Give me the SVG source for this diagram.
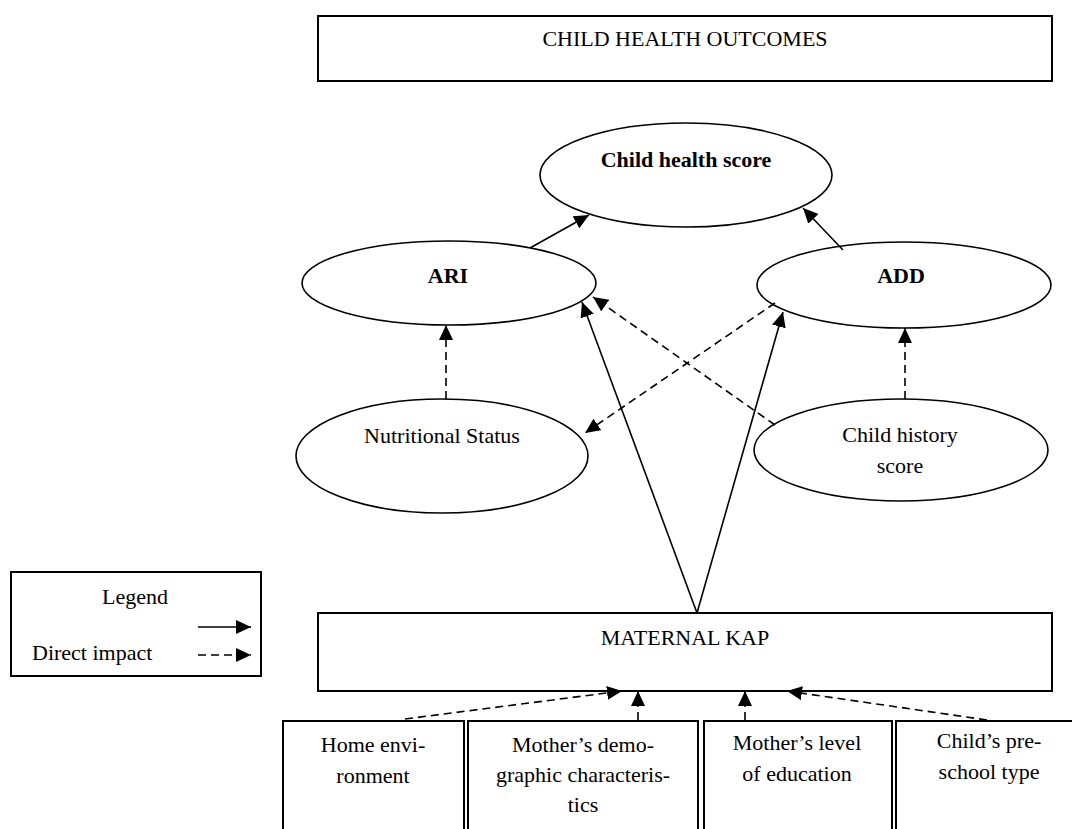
<svg xmlns="http://www.w3.org/2000/svg" width="1072" height="829" viewBox="0 0 1072 829">
<style>
text{font-family:"Liberation Serif","Times New Roman",serif;font-size:22px;fill:#000}
.b{font-weight:bold}
.box{fill:#fff;stroke:#000;stroke-width:2}
.ell{fill:#fff;stroke:#000;stroke-width:1.6}
.s{fill:none;stroke:#000;stroke-width:1.6}
.d{fill:none;stroke:#000;stroke-width:1.6;stroke-dasharray:8 5}
</style>
<defs>
<marker id="ah" markerUnits="userSpaceOnUse" markerWidth="16" markerHeight="14" refX="15" refY="7" orient="auto">
<path d="M0,0 L15,7 L0,14 z" fill="#000"/>
</marker>
</defs>
<rect width="1072" height="829" fill="#fff"/>

<g id="outcomes">
<rect class="box" x="318" y="16" width="734" height="65"/>
<text x="685" y="46" text-anchor="middle">CHILD HEALTH OUTCOMES</text>
</g>

<g id="child-health-score">
<ellipse class="ell" cx="686" cy="175" rx="146" ry="52"/>
<text class="b" x="686" y="167" text-anchor="middle">Child health score</text>
</g>

<g id="ari">
<ellipse class="ell" cx="449" cy="283" rx="147" ry="42"/>
<text class="b" x="448" y="283" text-anchor="middle">ARI</text>
</g>

<g id="add">
<ellipse class="ell" cx="904" cy="285" rx="147" ry="43"/>
<text class="b" x="901" y="283" text-anchor="middle">ADD</text>
</g>

<g id="nutritional-status">
<ellipse class="ell" cx="442" cy="456" rx="146" ry="57"/>
<text x="442" y="443" text-anchor="middle">Nutritional Status</text>
</g>

<g id="child-history-score">
<ellipse class="ell" cx="901" cy="450" rx="147" ry="51"/>
<text x="900" y="442" text-anchor="middle">Child history</text>
<text x="900" y="473" text-anchor="middle">score</text>
</g>

<g id="legend">
<rect class="box" x="11" y="572" width="250" height="104"/>
<text x="135" y="604" text-anchor="middle">Legend</text>
<text x="32" y="660">Direct impact</text>
<line class="s" x1="198" y1="627" x2="251" y2="627" marker-end="url(#ah)"/>
<line class="d" x1="198" y1="655" x2="251" y2="655" marker-end="url(#ah)"/>
</g>

<g id="maternal-kap">
<rect class="box" x="318" y="613" width="734" height="78"/>
<text x="685" y="645" text-anchor="middle">MATERNAL KAP</text>
</g>

<g id="home-environment">
<rect class="box" x="283" y="721" width="181" height="130"/>
<text x="373" y="752" text-anchor="middle">Home envi-</text>
<text x="373" y="783" text-anchor="middle">ronment</text>
</g>

<g id="mothers-demographics">
<rect class="box" x="468" y="721" width="230" height="130"/>
<text x="583" y="752" text-anchor="middle">Mother’s demo-</text>
<text x="583" y="782" text-anchor="middle">graphic characteris-</text>
<text x="583" y="812" text-anchor="middle">tics</text>
</g>

<g id="mothers-education">
<rect class="box" x="704" y="721" width="188" height="130"/>
<text x="797" y="750" text-anchor="middle">Mother’s level</text>
<text x="797" y="781" text-anchor="middle">of education</text>
</g>

<g id="preschool-type">
<rect class="box" x="896" y="721" width="190" height="130"/>
<text x="989" y="748" text-anchor="middle">Child’s pre-</text>
<text x="989" y="779" text-anchor="middle">school type</text>
</g>

<g id="connectors">
<line class="s" x1="530" y1="248" x2="589" y2="215" marker-end="url(#ah)"/>
<line class="s" x1="843" y1="250" x2="803" y2="208" marker-end="url(#ah)"/>
<line class="d" x1="446" y1="399" x2="446" y2="325" marker-end="url(#ah)"/>
<line class="d" x1="905" y1="399" x2="905" y2="328" marker-end="url(#ah)"/>
<line class="d" x1="775" y1="425" x2="593" y2="297" marker-end="url(#ah)"/>
<line class="d" x1="775" y1="303" x2="585" y2="433" marker-end="url(#ah)"/>
<line class="s" x1="697" y1="613" x2="582" y2="302" marker-end="url(#ah)"/>
<line class="s" x1="697" y1="613" x2="783" y2="312" marker-end="url(#ah)"/>
<line class="d" x1="405" y1="719" x2="622" y2="691" marker-end="url(#ah)"/>
<line class="d" x1="638" y1="720" x2="638" y2="691" marker-end="url(#ah)"/>
<line class="d" x1="745" y1="720" x2="745" y2="691" marker-end="url(#ah)"/>
<line class="d" x1="987" y1="720" x2="787" y2="691" marker-end="url(#ah)"/>
</g>
</svg>
